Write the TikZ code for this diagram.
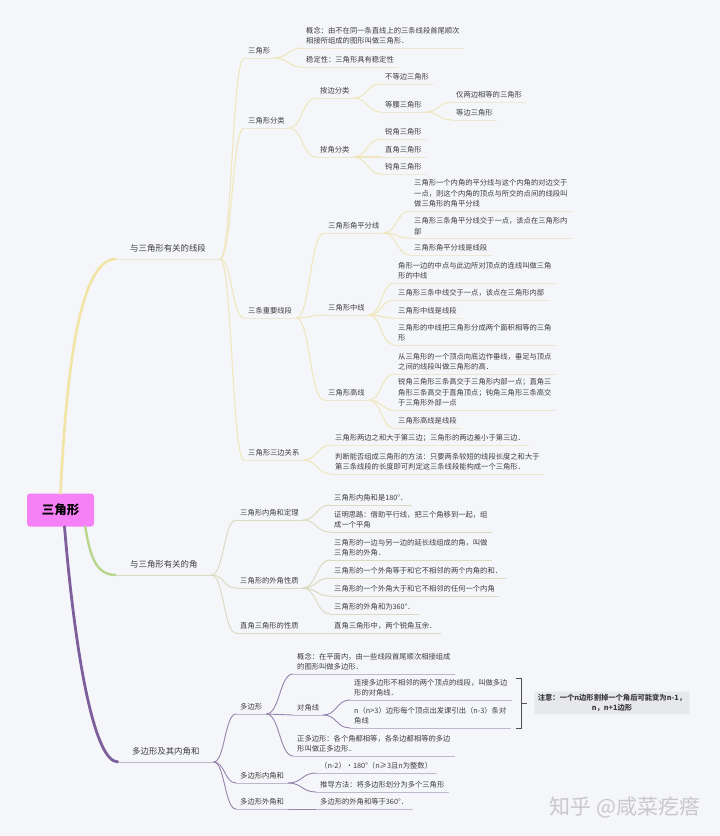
\documentclass[tikz,border=0pt]{standalone}
\usepackage{fontspec}
\setmainfont{Noto Sans CJK SC}
\usetikzlibrary{calc}
\definecolor{bg}{RGB}{245,246,250}
\definecolor{txt}{RGB}{62,62,62}
\definecolor{ymain}{RGB}{242,228,165}
\definecolor{ysub}{RGB}{240,231,190}
\definecolor{yul}{RGB}{238,232,208}
\definecolor{gmain}{RGB}{185,215,140}
\definecolor{gsub}{RGB}{218,220,192}
\definecolor{pmain}{RGB}{125,95,155}
\definecolor{psub}{RGB}{150,130,172}
\definecolor{pul}{RGB}{190,184,202}
\definecolor{rootc}{RGB}{246,128,246}
\definecolor{notebg}{RGB}{231,232,236}
\definecolor{wmc}{RGB}{200,200,206}
\definecolor{brk}{RGB}{80,80,80}
\newcommand\mmfs{\fontsize{7.3}{10.5}\selectfont}
\newcommand\mmlink[3]{\draw[#1] let \p1=(#2.south east), \p2=(#3.south west) in (\p1) .. controls ({0.5*\x1+0.5*\x2},\y1) and ({0.5*\x1+0.5*\x2},\y2) .. (\p2);}
\newcommand\mmul[2]{\draw[#1] (#2.south west) -- (#2.south east);}
\begin{document}
\begin{tikzpicture}[x=1pt,y=-1pt,
  lf/.style={anchor=south west, inner xsep=4pt, inner ysep=3.2pt, font=\mmfs, text=txt, align=left},
  lone/.style={lf, inner xsep=14pt, inner ysep=7pt, font=\fontsize{8.4}{10}\selectfont},
  ys/.style={draw=ysub, line width=1.1pt, line cap=round},
  yu/.style={draw=yul, line width=0.8pt, line cap=round},
  gs/.style={draw=gsub, line width=1.0pt, line cap=round},
  gu/.style={draw=gsub, line width=0.8pt, line cap=round},
  ps/.style={draw=psub, line width=0.9pt, line cap=round},
  pu/.style={draw=pul, line width=0.8pt, line cap=round}]
\fill[bg] (0,0) rectangle (720,836);
\useasboundingbox (0,0) rectangle (720,836);
% root
\node[fill=rootc, rounded corners=3pt, minimum width=67pt, minimum height=33pt, inner sep=0pt,
  font=\fontsize{12.5}{14}\selectfont\bfseries, text=black] (root) at (60.5,510) {三角形};
% level 1
\node[lone] (L1a) at (116,259) {与三角形有关的线段};
\node[lone] (L1b) at (116,575) {与三角形有关的角};
\node[lone] (L1c) at (118,762) {多边形及其内角和};
% yellow level 2
\node[lf] (a1) at (244,58) {三角形};
\node[lf] (a2) at (244,128) {三角形分类};
\node[lf] (a3) at (244,318) {三条重要线段};
\node[lf] (a4) at (244,460) {三角形三边关系};
\node[lf] (a11) at (302,48) {概念：由不在同一条直线上的三条线段首尾顺次\\相接所组成的图形叫做三角形．};
\node[lf] (a12) at (302,67) {稳定性：三角形具有稳定性};
\node[lf] (a21) at (316,98) {按边分类};
\node[lf] (a22) at (316,157) {按角分类};
\node[lf] (a211) at (381,84) {不等边三角形};
\node[lf] (a212) at (381,112) {等腰三角形};
\node[lf] (a2121) at (452,102) {仅两边相等的三角形};
\node[lf] (a2122) at (452,120) {等边三角形};
\node[lf] (a221) at (381,139) {锐角三角形};
\node[lf] (a222) at (381,157) {直角三角形};
\node[lf] (a223) at (381,174) {钝角三角形};
\node[lf] (a31) at (324,233) {三角形角平分线};
\node[lf] (a32) at (324,315) {三角形中线};
\node[lf] (a33) at (324,400) {三角形高线};
\node[lf] (a311) at (410,211) {三角形一个内角的平分线与这个内角的对边交于\\一点，则这个内角的顶点与所交的点间的线段叫\\做三角形的角平分线};
\node[lf] (a312) at (410,238) {三角形三条角平分线交于一点，该点在三角形内\\部};
\node[lf] (a313) at (410,255) {三角形角平分线是线段};
\node[lf] (a321) at (394,283) {角形一边的中点与此边所对顶点的连线叫做三角\\形的中线};
\node[lf] (a322) at (394,300) {三角形三条中线交于一点，该点在三角形内部};
\node[lf] (a323) at (394,318) {三角形中线是线段};
\node[lf] (a324) at (394,345) {三角形的中线把三角形分成两个面积相等的三角\\形};
\node[lf] (a331) at (394,374) {从三角形的一个顶点向底边作垂线，垂足与顶点\\之间的线段叫做三角形的高．};
\node[lf] (a332) at (394,410) {锐角三角形三条高交于三角形内部一点；直角三\\角形三条高交于直角顶点；钝角三角形三条高交\\于三角形外部一点};
\node[lf] (a333) at (394,428) {三角形高线是线段};
\node[lf] (a41) at (331,445) {三角形两边之和大于第三边；三角形的两边差小于第三边．};
\node[lf] (a42) at (331,474) {判断能否组成三角形的方法：只要两条较短的线段长度之和大于\\第三条线段的长度即可判定这三条线段能构成一个三角形．};
% green
\node[lf] (b1) at (236,520) {三角形内角和定理};
\node[lf] (b2) at (236,588) {三角形的外角性质};
\node[lf] (b3) at (236,633) {直角三角形的性质};
\node[lf] (b11) at (330,505) {三角形内角和是180°．};
\node[lf] (b12) at (330,532) {证明思路：借助平行线，把三个角移到一起，组\\成一个平角};
\node[lf] (b21) at (330,560) {三角形的一边与另一边的延长线组成的角，叫做\\三角形的外角．};
\node[lf] (b22) at (330,578) {三角形的一个外角等于和它不相邻的两个内角的和．};
\node[lf] (b23) at (330,596) {三角形的一个外角大于和它不相邻的任何一个内角};
\node[lf] (b24) at (330,614) {三角形的外角和为360°．};
\node[lf] (b31) at (330,633) {直角三角形中，两个锐角互余．};
% purple
\node[lf] (c1) at (236,714) {多边形};
\node[lf] (c2) at (236,783) {多边形内角和};
\node[lf] (c3) at (236,809) {多边形外角和};
\node[lf] (c11) at (293,674) {概念：在平面内，由一些线段首尾顺次相接组成\\的图形叫做多边形．};
\node[lf] (c12) at (293,715) {对角线};
\node[lf] (c13) at (293,756) {正多边形：各个角都相等，各条边都相等的多边\\形叫做正多边形．};
\node[lf] (c121) at (350,700) {连接多边形不相邻的两个顶点的线段，叫做多边\\形的对角线．};
\node[lf] (c122) at (350,728) {n（n>3）边形每个顶点出发课引出（n-3）条对\\角线};
\node[lf] (c21) at (316,773) {（n-2）•180°（n≥3且n为整数）};
\node[lf] (c22) at (316,792) {推导方法：将多边形划分为多个三角形};
\node[lf] (c31) at (316,809) {多边形的外角和等于360°．};
% note
\node[fill=notebg, rounded corners=1pt, text width=150pt, align=center, inner sep=2.5pt,
  font=\mmfs\bfseries, text=txt] (note) at (612,703) {注意：一个n边形割掉一个角后可能变为n-1，\\n，n+1边形};
\draw[brk, line width=0.7pt] ($(note.west)+(-18,-25)$) -- ($(note.west)+(-13,-25)$) -- ($(note.west)+(-13,25)$) -- ($(note.west)+(-18,25)$);
\draw[brk, line width=0.7pt] ($(note.west)+(-13,0)$) -- ($(note.west)+(-7,0)$);
% watermark
\node[font=\fontsize{21}{21}\selectfont, text=wmc] (wm) at (625,807) {知乎 @咸菜疙瘩};
% root connectors
\draw[ymain, line width=2.6pt, line cap=round] (root.north) .. controls ($(root.north)+(5,-100)$) and ($(L1a.south west)+(-40,0)$) .. (L1a.south west);
\draw[gmain, line width=2.4pt, line cap=round] ($(root.south east)+(-9,0)$) .. controls ($(root.south east)+(-4,30)$) and ($(L1b.south west)+(-20,0)$) .. (L1b.south west);
\draw[pmain, line width=2.8pt, line cap=round] ($(root.south)+(4,0)$) .. controls ($(root.south)+(14,120)$) and ($(L1c.south west)+(-25,0)$) .. (L1c.south west);
% links
\foreach \mmA/\mmB in {L1a/a1,L1a/a2,L1a/a3,L1a/a4,a1/a11,a1/a12,a2/a21,a2/a22,a21/a211,a21/a212,a212/a2121,a212/a2122,a22/a221,a22/a222,a22/a223,a3/a31,a3/a32,a3/a33,a31/a311,a31/a312,a31/a313,a32/a321,a32/a322,a32/a323,a32/a324,a33/a331,a33/a332,a33/a333,a4/a41,a4/a42}
  {\mmlink{ys}{\mmA}{\mmB}}
\foreach \mmA/\mmB in {L1b/b1,L1b/b2,L1b/b3,b1/b11,b1/b12,b2/b21,b2/b22,b2/b23,b2/b24,b3/b31}
  {\mmlink{gs}{\mmA}{\mmB}}
\foreach \mmA/\mmB in {L1c/c1,L1c/c2,L1c/c3,c1/c11,c1/c12,c1/c13,c12/c121,c12/c122,c2/c21,c2/c22,c3/c31}
  {\mmlink{ps}{\mmA}{\mmB}}
% underlines
\foreach \mmA in {L1a,a1,a2,a3,a4,a11,a12,a21,a22,a211,a212,a2121,a2122,a221,a222,a223,a31,a32,a33,a311,a312,a313,a321,a322,a323,a324,a331,a332,a333,a41,a42}
  {\mmul{yu}{\mmA}}
\foreach \mmA in {L1b,b1,b2,b3,b11,b12,b21,b22,b23,b24,b31}
  {\mmul{gu}{\mmA}}
\foreach \mmA in {L1c,c1,c2,c3,c11,c12,c13,c121,c122,c21,c22,c31}
  {\mmul{pu}{\mmA}}
\end{tikzpicture}
\end{document}
